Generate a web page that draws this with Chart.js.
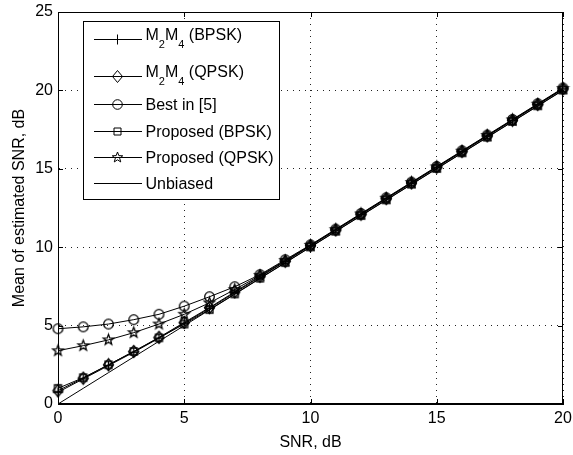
<!DOCTYPE html>
<html>
<head>
<meta charset="utf-8">
<script src="https://cdn.jsdelivr.net/npm/chart.js@4"></script>
<style>
  body { margin: 0; background: #fff; }
  #wrap { width: 573px; height: 455px; }
</style>
</head>
<body>
<div id="wrap"><canvas id="snrChart" width="573" height="455"></canvas></div>
<script>
// ===== data =====
const snr = [0, 1, 2, 3, 4, 5, 6, 7, 8, 9, 10, 11, 12, 13, 14, 15, 16, 17, 18, 19, 20];
const m2m4Bpsk = [0.75, 1.6, 2.45, 3.3, 4.2, 5.15, 6.1, 7.1, 8.1, 9.1, 10.1, 11.1, 12.1, 13.1, 14.1, 15.1, 16.1, 17.1, 18.1, 19.1, 20.1];
const m2m4Qpsk = [0.85, 1.65, 2.5, 3.35, 4.25, 5.2, 6.15, 7.15, 8.15, 9.1, 10.1, 11.1, 12.1, 13.1, 14.1, 15.1, 16.1, 17.1, 18.1, 19.1, 20.1];
const best5 = [4.8, 4.92, 5.1, 5.38, 5.72, 6.24, 6.84, 7.48, 8.25, 9.2, 10.15, 11.15, 12.15, 13.15, 14.15, 15.15, 16.15, 17.15, 18.15, 19.15, 20.15];
const proposedBpsk = [1.0, 1.68, 2.5, 3.35, 4.22, 5.1, 6.02, 7.02, 8.02, 9.02, 10.02, 11.02, 12.02, 13.02, 14.02, 15.02, 16.02, 17.02, 18.02, 19.02, 20.02];
const proposedQpsk = [3.4, 3.72, 4.09, 4.55, 5.1, 5.72, 6.45, 7.3, 8.2, 9.15, 10.12, 11.12, 12.12, 13.12, 14.12, 15.12, 16.12, 17.12, 18.12, 19.12, 20.12];
const unbiased = [0, 1, 2, 3, 4, 5, 6, 7, 8, 9, 10, 11, 12, 13, 14, 15, 16, 17, 18, 19, 20];

const xTicks = [0, 5, 10, 15, 20];
const yTicks = [0, 5, 10, 15, 20, 25];
const seriesLabels = ['M_2M_4 (BPSK)', 'M_2M_4 (QPSK)', 'Best in [5]', 'Proposed (BPSK)', 'Proposed (QPSK)', 'Unbiased'];
const seriesMarkers = ['plus', 'diamond', 'circle', 'square', 'star', 'none'];
const seriesValues = [m2m4Bpsk, m2m4Qpsk, best5, proposedBpsk, proposedQpsk, unbiased];

const FONT = '"Liberation Sans", Arial, Helvetica, sans-serif';

function drawMarker(ctx, kind, x, y, lw) {
  if (kind === 'none') return;
  ctx.save();
  ctx.strokeStyle = '#000';
  ctx.lineWidth = lw || 1;
  ctx.beginPath();
  if (kind === 'plus') {
    ctx.moveTo(x - 5, y); ctx.lineTo(x + 5, y);
    ctx.moveTo(x, y - 5); ctx.lineTo(x, y + 5);
  } else if (kind === 'diamond') {
    ctx.moveTo(x, y - 6); ctx.lineTo(x + 5, y); ctx.lineTo(x, y + 6); ctx.lineTo(x - 5, y); ctx.closePath();
  } else if (kind === 'circle') {
    ctx.arc(x, y, 4.8, 0, Math.PI * 2);
  } else if (kind === 'square') {
    ctx.rect(x - 3.5, y - 3.5, 7, 7);
  } else if (kind === 'star') {
    for (let k = 0; k < 10; k++) {
      const r = k % 2 === 0 ? 5.5 : 2.3;
      const a = -Math.PI / 2 + k * Math.PI / 5;
      const px = x + r * Math.cos(a), py = y + r * Math.sin(a);
      if (k === 0) ctx.moveTo(px, py); else ctx.lineTo(px, py);
    }
    ctx.closePath();
  }
  ctx.stroke();
  ctx.restore();
}

function markerImage(kind) {
  const c = document.createElement('canvas');
  c.width = 15; c.height = 15;
  drawMarker(c.getContext('2d'), kind, 7.5, 7.5, 1.3);
  return c;
}

const datasets = seriesValues.map((vals, i) => ({
  label: seriesLabels[i],
  data: snr.map((s, j) => ({ x: s, y: vals[j] })),
  borderColor: '#000',
  borderWidth: 1,
  pointStyle: seriesMarkers[i] === 'none' ? false : markerImage(seriesMarkers[i]),
  pointRadius: seriesMarkers[i] === 'none' ? 0 : 5,
  tension: 0,
  clip: false
}));

function drawText(ctx, text, x, y) {
  // '_c' means c as a subscript
  let cx = x;
  for (let i = 0; i < text.length; i++) {
    if (text[i] === '_') {
      ctx.font = '11px ' + FONT;
      ctx.fillText(text[i + 1], cx, y + 8);
      cx += ctx.measureText(text[i + 1]).width;
      i++;
    } else {
      ctx.font = '16px ' + FONT;
      ctx.fillText(text[i], cx, y);
      cx += ctx.measureText(text[i]).width;
    }
  }
}

const boxPlugin = {
  id: 'matlabBox',
  afterDraw(chart) {
    const { ctx, chartArea: a, scales } = chart;
    ctx.save();
    ctx.strokeStyle = '#000';
    ctx.lineWidth = 1;
    ctx.strokeRect(Math.round(a.left) + 0.5, Math.round(a.top) + 0.5, Math.round(a.right - a.left) - 1, Math.round(a.bottom - a.top) - 1);
    ctx.beginPath();
    xTicks.forEach(v => {
      const px = Math.round(scales.x.getPixelForValue(v)) + 0.5;
      ctx.moveTo(px, a.bottom); ctx.lineTo(px, a.bottom - 5);
      ctx.moveTo(px, a.top); ctx.lineTo(px, a.top + 5);
    });
    yTicks.forEach(v => {
      const py = Math.round(scales.y.getPixelForValue(v)) + 0.5;
      ctx.moveTo(a.left, py); ctx.lineTo(a.left + 5, py);
      ctx.moveTo(a.right, py); ctx.lineTo(a.right - 5, py);
    });
    ctx.stroke();

    // legend
    const lx = 83.5, ly = 21.5, lw = 196, lh = 178;
    ctx.fillStyle = '#fff';
    ctx.fillRect(lx, ly, lw, lh);
    ctx.strokeRect(lx, ly, lw, lh);
    const rowY = [39.5, 76.5, 104.5, 131.5, 157.5, 183.5];
    ctx.fillStyle = '#000';
    ctx.textBaseline = 'alphabetic';
    seriesLabels.forEach((lab, i) => {
      const y = rowY[i];
      ctx.beginPath();
      ctx.moveTo(94, y); ctx.lineTo(142, y);
      ctx.stroke();
      drawMarker(ctx, seriesMarkers[i], 117.5, y, 1);
      const base = lab.indexOf('_') >= 0 ? y + 0.5 : y + 5.5;
      drawText(ctx, lab, 145.5, base);
    });
    ctx.restore();
  }
};

new Chart(document.getElementById('snrChart'), {
  type: 'line',
  data: { datasets },
  plugins: [boxPlugin],
  options: {
    responsive: false,
    animation: false,
    layout: { padding: { left: 0, right: 10, top: 12, bottom: 0 } },
    plugins: { legend: { display: false }, tooltip: { enabled: false } },
    scales: {
      x: {
        type: 'linear', min: 0, max: 20,
        afterBuildTicks: s => { s.ticks = xTicks.map(v => ({ value: v })); },
        afterFit: s => { s.height = 51; s.paddingLeft = 0; s.paddingRight = 0; },
        ticks: { color: '#000', font: { family: FONT, size: 16 }, padding: 5, maxRotation: 0 },
        grid: { color: '#222', drawTicks: false },
        border: { color: '#000', width: 1, dash: [1, 5] },
        title: { display: true, text: 'SNR, dB', color: '#000', font: { family: FONT, size: 16 }, padding: { top: 10, bottom: 3 } }
      },
      y: {
        type: 'linear', min: 0, max: 25,
        afterBuildTicks: s => { s.ticks = yTicks.map(v => ({ value: v })); },
        afterFit: s => { s.width = 58; s.paddingTop = 0; s.paddingBottom = 0; },
        ticks: { color: '#000', font: { family: FONT, size: 16 }, padding: 5 },
        grid: { color: '#222', drawTicks: false },
        border: { color: '#000', width: 1, dash: [1, 5] },
        title: { display: true, text: 'Mean of estimated SNR, dB', color: '#000', font: { family: FONT, size: 16 }, padding: { top: 10, bottom: 0 } }
      }
    }
  }
});
</script>
</body>
</html>
